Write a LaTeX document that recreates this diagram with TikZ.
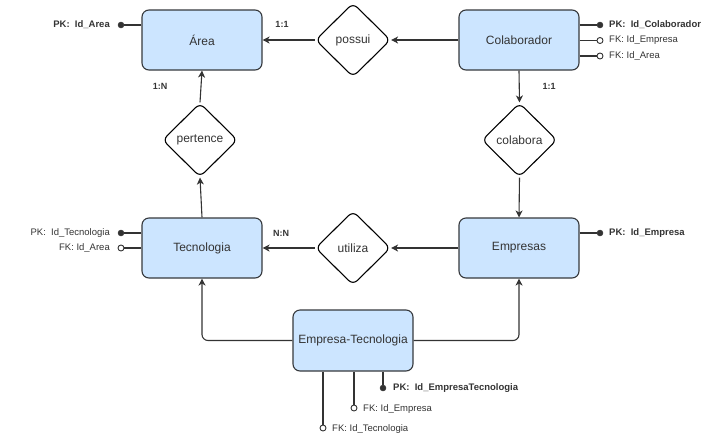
\documentclass[tikz,border=0pt]{standalone}
\usepackage{fontspec}
\setmainfont{Liberation Sans}
\usetikzlibrary{shapes.geometric,arrows.meta}
\definecolor{ink}{HTML}{333333}
\definecolor{boxfill}{HTML}{CCE5FF}
\definecolor{boxline}{HTML}{36393D}
\begin{document}
\begin{tikzpicture}[x=1pt,y=-1pt,
  entity/.style={draw=boxline, fill=boxfill, line width=1.1pt, rounded corners=7pt,
    minimum width=120pt, minimum height=60pt, inner sep=0pt, text=ink, font=\fontsize{12}{14}\selectfont},
  relation/.style={draw=black, fill=white, line width=1.1pt, diamond, rounded corners=6pt,
    minimum width=75pt, minimum height=74pt, inner sep=0pt, text=ink, font=\fontsize{12}{14}\selectfont},
  link/.style={draw=ink, line width=1.1pt, -{Stealth[length=7pt,width=7pt,inset=2pt]}},
  attrline/.style={draw=ink, line width=1.1pt},
  card/.style={font=\bfseries\fontsize{9}{11}\selectfont, text=ink, inner sep=0pt},
  pklabel/.style={font=\bfseries\fontsize{9.5}{11}\selectfont, text=ink, inner sep=0pt},
  fklabel/.style={font=\fontsize{9.5}{11}\selectfont, text=ink, inner sep=0pt},
  pkdot/.style={circle, fill=ink, draw=ink, minimum size=6pt, inner sep=0pt},
  fkdot/.style={circle, fill=white, draw=ink, line width=0.9pt, minimum size=6pt, inner sep=0pt}]
\useasboundingbox (0,0) rectangle (717,445);

% entities
\node[entity] (area) at (202,40) {Área};
\node[entity] (colab) at (519,40) {Colaborador};
\node[entity] (tec) at (202,248) {Tecnologia};
\node[entity] (emp) at (519,248) {Empresas};
\node[entity, minimum height=61pt] (emptec) at (353,340.5) {Empresa-Tecnologia};

% relationships
\node[relation] (possui) at (353,40) {possui};
\node[relation] (pertence) at (200,140) {pertence};
\node[relation] (colabora) at (519.5,140) {colabora};
\node[relation] (utiliza) at (353,248) {utiliza};

% relationship connectors
\draw[link] (colab.west) -- (possui.east);
\draw[link] (possui.west) -- (area.east);
\draw[link] (colab.south) -- (colabora.north);
\draw[link] (colabora.south) -- (emp.north);
\draw[link] (emp.west) -- (utiliza.east);
\draw[link] (utiliza.west) -- (tec.east);
\draw[link] (tec.north) -- (pertence.south);
\draw[link] (pertence.north) -- (area.south);
\draw[link, rounded corners=6pt] (emptec.west) -| (tec.south);
\draw[link, rounded corners=6pt] (emptec.east) -| (emp.south);

% cardinalities
\node[card] (c1) at (282,24) {1:1};
\node[card] (c2) at (160,86) {1:N};
\node[card] (c3) at (549,86) {1:1};
\node[card] (c4) at (281,233) {N:N};

% attributes of Área
\node[pkdot] (aPK) at (121,25) {};
\draw[attrline] (area.west |- aPK) -- (aPK);
\node[pklabel, anchor=east] (aPKt) at (110,25) {PK:\ \ Id\_Area};

% attributes of Colaborador
\node[pkdot] (cPK) at (600,25) {};
\node[fkdot] (cFK1) at (600,40.5) {};
\node[fkdot] (cFK2) at (600,56) {};
\draw[attrline] (colab.east |- cPK) -- (cPK);
\draw[attrline] (colab.east |- cFK1) -- (cFK1);
\draw[attrline] (colab.east |- cFK2) -- (cFK2);
\node[pklabel, anchor=west] (cPKt) at (609,25) {PK:\ \ Id\_Colaborador};
\node[fklabel, anchor=west] (cFK1t) at (609,40.5) {FK: Id\_Empresa};
\node[fklabel, anchor=west] (cFK2t) at (609,56) {FK: Id\_Area};

% attributes of Tecnologia
\node[pkdot] (tPK) at (121,233) {};
\node[fkdot] (tFK) at (121,248) {};
\draw[attrline] (tec.west |- tPK) -- (tPK);
\draw[attrline] (tec.west |- tFK) -- (tFK.east);
\node[fklabel, anchor=east] (tPKt) at (110,233) {PK:\ \ Id\_Tecnologia};
\node[fklabel, anchor=east] (tFKt) at (110,248) {FK: Id\_Area};

% attributes of Empresas
\node[pkdot] (ePK) at (600,233) {};
\draw[attrline] (emp.east |- ePK) -- (ePK);
\node[pklabel, anchor=west] (ePKt) at (609,233) {PK:\ \ Id\_Empresa};

% attributes of Empresa-Tecnologia
\node[fkdot] (etFK2) at (323,428) {};
\node[fkdot] (etFK1) at (354,408) {};
\node[pkdot] (etPK) at (383,388) {};
\draw[attrline] (etFK2 |- emptec.south) -- (etFK2.north);
\draw[attrline] (etFK1 |- emptec.south) -- (etFK1.north);
\draw[attrline] (etPK |- emptec.south) -- (etPK);
\node[pklabel, anchor=west] (etPKt) at (393,388) {PK:\ \ Id\_EmpresaTecnologia};
\node[fklabel, anchor=west] (etFK1t) at (363,409) {FK: Id\_Empresa};
\node[fklabel, anchor=west] (etFK2t) at (332,429) {FK: Id\_Tecnologia};
\end{tikzpicture}
\end{document}
